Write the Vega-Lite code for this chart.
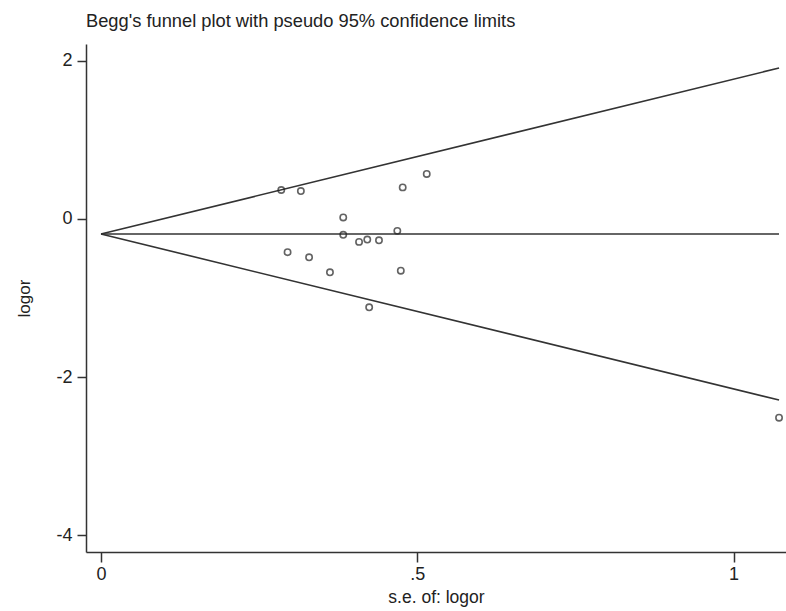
{
  "$schema": "https://vega.github.io/schema/vega-lite/v6.json",
  "width": 700,
  "height": 508,
  "autosize": {"type": "none"},
  "padding": {"left": 86, "top": 44, "right": 0, "bottom": 59},
  "background": "white",
  "title": {
    "text": "Begg's funnel plot with pseudo 95% confidence limits",
    "anchor": "start",
    "frame": "group",
    "font": "Liberation Sans",
    "fontSize": 18.3,
    "fontWeight": "normal",
    "color": "#222222",
    "baseline": "alphabetic",
    "offset": -1
  },
  "config": {
    "view": {"stroke": null},
    "axis": {
      "grid": false,
      "domainColor": "#333333",
      "domainWidth": 1.5,
      "tickColor": "#333333",
      "tickWidth": 1.5,
      "labelFont": "Liberation Sans",
      "labelFontSize": 18,
      "labelColor": "#222222",
      "titleFont": "Liberation Sans",
      "titleFontSize": 17.5,
      "titleFontWeight": "normal",
      "titleColor": "#222222"
    }
  },
  "datasets": {
    "studies": [
      {"se": 0.285, "logor": 0.367},
      {"se": 0.316, "logor": 0.354},
      {"se": 0.515, "logor": 0.57},
      {"se": 0.477, "logor": 0.40},
      {"se": 0.383, "logor": 0.02},
      {"se": 0.383, "logor": -0.20},
      {"se": 0.4685, "logor": -0.15},
      {"se": 0.408, "logor": -0.29},
      {"se": 0.421, "logor": -0.26},
      {"se": 0.4395, "logor": -0.27},
      {"se": 0.295, "logor": -0.42},
      {"se": 0.329, "logor": -0.485},
      {"se": 0.362, "logor": -0.675},
      {"se": 0.474, "logor": -0.654},
      {"se": 0.424, "logor": -1.118},
      {"se": 1.072, "logor": -2.515}
    ],
    "limits": [
      {"line": "upper", "se": 0.0, "logor": -0.19},
      {"line": "upper", "se": 1.072, "logor": 1.911},
      {"line": "center", "se": 0.0, "logor": -0.19},
      {"line": "center", "se": 1.072, "logor": -0.19},
      {"line": "lower", "se": 0.0, "logor": -0.19},
      {"line": "lower", "se": 1.072, "logor": -2.291}
    ]
  },
  "layer": [
    {
      "data": {"name": "limits"},
      "mark": {"type": "line", "color": "#333333", "strokeWidth": 1.6, "clip": true},
      "encoding": {
        "x": {
          "field": "se",
          "type": "quantitative",
          "scale": {"domain": [-0.0237, 1.083], "nice": false, "zero": false},
          "axis": {
            "title": "s.e. of: logor",
            "values": [0, 0.5, 1],
            "labelExpr": "replace(datum.value + '', '0.', '.')",
            "tickSize": 10,
            "labelPadding": 3,
            "titlePadding": 5
          }
        },
        "y": {
          "field": "logor",
          "type": "quantitative",
          "scale": {"domain": [-4.215, 2.215], "nice": false, "zero": false},
          "axis": {
            "title": "logor",
            "titleFontSize": 17,
            "values": [-4, -2, 0, 2],
            "labelExpr": "datum.value + ''",
            "tickSize": 9,
            "labelPadding": 5,
            "titlePadding": 22
          }
        },
        "detail": {"field": "line", "type": "nominal"}
      }
    },
    {
      "data": {"name": "studies"},
      "mark": {"type": "point", "shape": "circle", "filled": false, "color": "#222222", "strokeWidth": 1.6, "size": 40, "clip": true},
      "encoding": {
        "x": {"field": "se", "type": "quantitative"},
        "y": {"field": "logor", "type": "quantitative"}
      }
    }
  ]
}
